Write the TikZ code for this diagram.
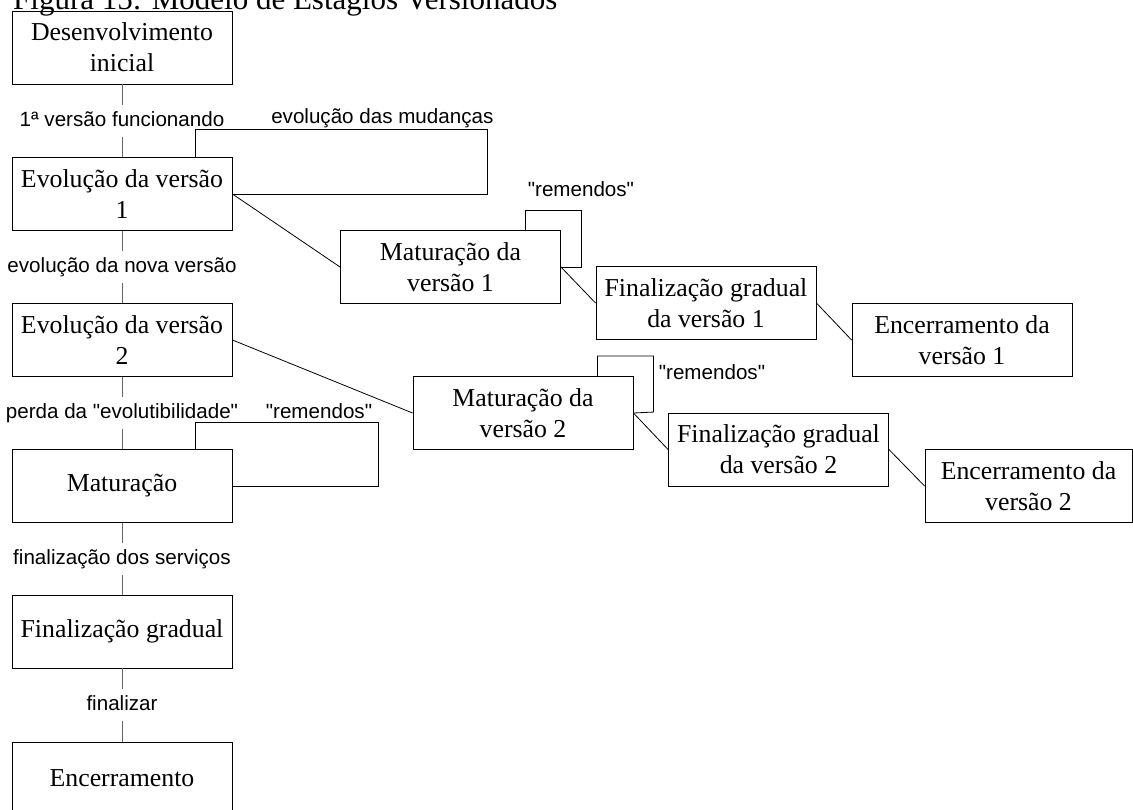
\documentclass[tikz,border=0pt]{standalone}
\usepackage{fontspec}
\setmainfont{Liberation Serif}
\newfontfamily\lblfont{Liberation Sans}
\usetikzlibrary{calc}
\begin{document}
\begin{tikzpicture}[x=1pt,y=-1pt,
  stage/.style={draw=black, line width=0.9pt, minimum width=220pt, minimum height=73pt,
    inner sep=2pt, align=center, font=\fontsize{25.8}{31}\selectfont},
  lbl/.style={font=\lblfont\fontsize{20.6}{24}\selectfont, inner sep=0pt,
    text height=15pt, text depth=4pt},
  gaplbl/.style={lbl, fill=white, inner ysep=6.5pt, inner xsep=0pt},
  seq/.style={draw=black!60, line width=1pt},
  link/.style={draw=black, line width=0.8pt},
  selfloop/.style={draw=black, line width=0.8pt},
]
\useasboundingbox (0,0) rectangle (1133,809);
\clip (0,0) rectangle (1133,809);

% title
\node[anchor=base west, font=\fontsize{31}{36}\selectfont, inner sep=0pt] (title)
  at (13,9) {Figura 15: Modelo de Estágios Versionados};

% main line of stages
\node[stage] (dev) at (122,47.5)  {Desenvolvimento\\inicial};
\node[stage] (ev1) at (122,194)   {Evolução da versão\\1};
\node[stage] (ev2) at (122,340)   {Evolução da versão\\2};
\node[stage] (mat) at (122,486)   {Maturação};
\node[stage] (fin) at (122,631.5) {Finalização gradual};
\node[stage] (enc) at (122,778.5) {Encerramento};

% branch of version 1
\node[stage] (mv1) at (450.5,267) {Maturação da\\versão 1};
\node[stage] (fv1) at (706,303)   {Finalização gradual\\da versão 1};
\node[stage] (ev1end) at (962,340) {Encerramento da\\versão 1};

% branch of version 2
\node[stage] (mv2) at (523,413)   {Maturação da\\versão 2};
\node[stage] (fv2) at (778.5,449.5) {Finalização gradual\\da versão 2};
\node[stage, minimum width=207pt] (ev2end) at (1028.5,486) {Encerramento da\\versão 2};

% transitions of the main line
\draw[seq] (dev) -- node[gaplbl] {1ª versão funcionando} (ev1);
\draw[seq] (ev1) -- node[gaplbl] {evolução da nova versão} (ev2);
\draw[seq] (ev2) -- node[gaplbl] {perda da "evolutibilidade"} (mat);
\draw[seq] (mat) -- node[gaplbl] {finalização dos serviços} (fin);
\draw[seq] (fin) -- node[gaplbl] {finalizar} (enc);

% branches
\draw[link] (ev1.east) -- (mv1.west);
\draw[link] (mv1.east) -- (fv1.west);
\draw[link] (fv1.east) -- (ev1end.west);
\draw[link] (ev2.east) -- (mv2.west);
\draw[link] (mv2.east) -- (fv2.west);
\draw[link] (fv2.east) -- (ev2end.west);

% self loops
\draw[selfloop] ([xshift=-37pt]ev1.north east) -- ++(0,-28)
  -- node[lbl, pos=0.64, yshift=11pt] {evolução das mudanças} ++(292,0) |- (ev1.east);
\draw[selfloop] ([xshift=-36pt]mv1.north east) -- ++(0,-20)
  -- node[lbl, pos=1, yshift=19pt] {"remendos"} ++(56,0) |- (mv1.east);
\draw[selfloop] ([xshift=-36pt]mv2.north east) -- ++(0,-20) -- ++(56,0)
  -- node[lbl, pos=0.32, anchor=west, xshift=5pt] {"remendos"} ++(0,56) -- (mv2.east);
\draw[selfloop] ([xshift=-37pt]mat.north east) -- ++(0,-27)
  -- node[lbl, pos=0.675, yshift=9pt] {"remendos"} ++(183,0) |- (mat.east);
\end{tikzpicture}
\end{document}
